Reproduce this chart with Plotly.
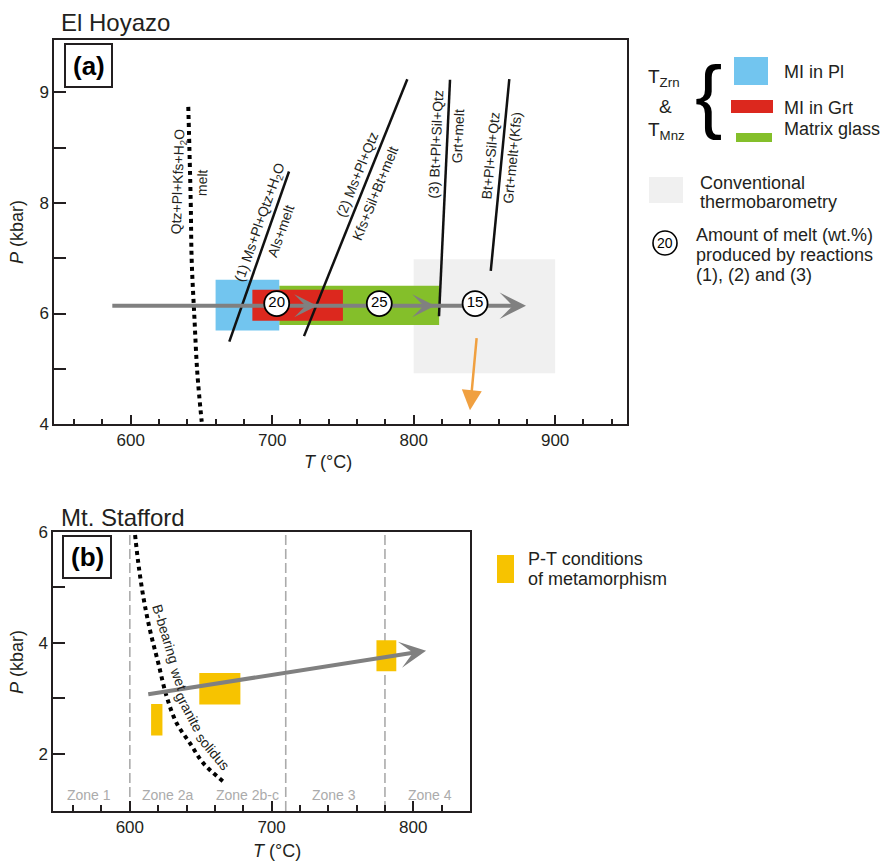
import plotly.graph_objects as go

FONT = "Liberation Sans, Arial, Helvetica, sans-serif"
INK = "#231f20"
W, H = 880, 862

# ---------------- Panel (a): El Hoyazo ----------------
a_xrange = [546, 951]
a_yrange = [4, 10.95]
a_yticks = [4, 6, 8, 10]
a_yticklabels = ["4", "6", "8", "9"]
a_yminor = [5, 7, 9]

# boxes: [T min, T max, P min, P max]
conv_box = [800, 900, 4.92, 6.98]
glass_box = [705, 818, 5.79, 6.50]
pl_box = [660, 705, 5.69, 6.61]
grt_box = [686, 750, 5.87, 6.43]

solidus_T = [640.7, 642.4, 643.1, 645.0, 647.1, 650.2]
solidus_P = [9.74, 8.05, 6.97, 5.94, 4.92, 4.04]

r1_T = [669.7, 711.9]
r1_P = [5.49, 8.57]
r2_T = [722.5, 795.5]
r2_P = [5.59, 10.24]
r3_T = [817.9, 825.7]
r3_P = [5.95, 10.23]
r4_T = [854.5, 867.6]
r4_P = [6.77, 10.24]

path_T = [587, 879.4]
path_P = [6.14, 6.14]
path_heads_T = [731.7, 815.1]

melt_T = [703.2, 775.7, 843.4]
melt_P = [6.18, 6.18, 6.18]
melt_amount = ["20", "25", "15"]

orange_T = [844.6, 839.8]
orange_P = [5.58, 4.25]

# reaction labels: text, T, P, angle
a_labels = [
    ("Qtz+Pl+Kfs+H<sub>2</sub>O", 634.1, 8.39, -88),
    ("melt", 650.4, 8.36, -88),
    ("(1) Ms+Pl+Qtz+H<sub>2</sub>O", 691.4, 7.64, -70.6),
    ("Als+melt", 706.2, 7.49, -70.6),
    ("(2) Ms+Pl+Qtz", 760.3, 8.52, -68),
    ("Kfs+Sil+Bt+melt", 772.9, 8.18, -68),
    ("(3) Bt+Pl+Sil+Qtz", 815.6, 9.07, -87.3),
    ("Grt+melt", 831.4, 9.21, -87.3),
    ("Bt+Pl+Sil+Qtz", 854.7, 8.86, -84.4),
    ("Grt+melt+(Kfs)", 869.5, 8.82, -84.4),
]

# ---------------- Panel (b): Mt. Stafford ----------------
b_xrange = [546, 840]
b_yrange = [0.97, 6.0]
b_yticks = [2, 4, 6]
b_yticklabels = ["2", "4", "6"]
b_yminor = [3, 5]

zone_bounds = [600, 710, 780]
zone_names = ["Zone 1", "Zone 2a", "Zone 2b-c", "Zone 3", "Zone 4"]
zone_label_T = [571.3, 626.7, 682.7, 743.9, 811.8]
zone_label_P = [1.26, 1.26, 1.26, 1.26, 1.26]

meta_boxes = [
    [615, 623, 2.33, 2.90],
    [649, 678, 2.89, 3.46],
    [774, 788, 3.49, 4.05],
]

b_solidus_T = [603.7, 606.0, 609.5, 614.2, 620.1, 626.0, 633.1, 642.5, 651.9, 666.0]
b_solidus_P = [5.946, 5.436, 4.833, 4.233, 3.633, 3.031, 2.551, 2.19, 1.83, 1.498]

b_path_T = [613.0, 809.0]
b_path_P = [3.074, 3.86]

b_labels = [
    ("B-bearing", 625.6, 4.17, 73),
    ("wet", 634.0, 3.36, 70),
    ("granite", 642.0, 2.76, 62),
    ("solidus", 659.0, 2.04, 50),
]

# ---------------- colours ----------------
C_PL = "#72c5ef"
C_GRT = "#dc281e"
C_GLASS = "#84bf2a"
C_CONV = "#f0f0f0"
C_META = "#f7c300"
C_PATH = "#808080"
C_ORANGE = "#f0a040"
C_ZONE = "#ababab"


def px(x):
    return x / W


def py(y):
    return 1 - y / H


fig = go.Figure()

# ---- panel a traces ----
fig.add_trace(go.Scatter(x=solidus_T, y=solidus_P, mode="lines", line=dict(color="black", width=4, dash="dot", shape="spline"),
                         xaxis="x", yaxis="y", hoverinfo="skip"))
for tt, pp in [(r1_T, r1_P), (r2_T, r2_P), (r3_T, r3_P), (r4_T, r4_P)]:
    fig.add_trace(go.Scatter(x=tt, y=pp, mode="lines", line=dict(color="#111111", width=2.5),
                             xaxis="x", yaxis="y", hoverinfo="skip"))
fig.add_trace(go.Scatter(x=[path_T[0], path_T[1] - 8], y=path_P, mode="lines", line=dict(color=C_PATH, width=4),
                         xaxis="x", yaxis="y", hoverinfo="skip"))
fig.add_trace(go.Scatter(x=melt_T, y=melt_P, mode="markers+text", text=melt_amount, textposition="middle center",
                         textfont=dict(size=15, color="black", family=FONT),
                         marker=dict(size=25, color="white", line=dict(color="black", width=1.8)),
                         xaxis="x", yaxis="y", hoverinfo="skip"))

# ---- panel b traces ----
fig.add_trace(go.Scatter(x=b_solidus_T, y=b_solidus_P, mode="lines", line=dict(color="black", width=4, dash="dot", shape="spline"),
                         xaxis="x2", yaxis="y2", hoverinfo="skip"))
b_slope = (b_path_P[1] - b_path_P[0]) / (b_path_T[1] - b_path_T[0])
fig.add_trace(go.Scatter(x=[b_path_T[0], b_path_T[1] - 8], y=[b_path_P[0], b_path_P[1] - 8 * b_slope],
                         mode="lines", line=dict(color=C_PATH, width=4), xaxis="x2", yaxis="y2", hoverinfo="skip"))

shapes = []


def rect(box, color, xr="x", yr="y"):
    return dict(type="rect", xref=xr, yref=yr, x0=box[0], x1=box[1], y0=box[2], y1=box[3],
                fillcolor=color, line=dict(width=0), layer="below")


shapes.append(rect(conv_box, C_CONV))
shapes.append(rect(glass_box, C_GLASS))
shapes.append(rect(pl_box, C_PL))
shapes.append(rect(grt_box, C_GRT))
for b in meta_boxes:
    shapes.append(rect(b, C_META, "x2", "y2"))
for zb in zone_bounds:
    shapes.append(dict(type="line", xref="x2", yref="y2 domain", x0=zb, x1=zb, y0=0, y1=1,
                       line=dict(color=C_ZONE, width=1.6, dash="10px,4px"), layer="below"))

# panel letter boxes
shapes.append(dict(type="rect", xref="paper", yref="paper", x0=px(65), x1=px(112), y0=py(87), y1=py(44),
                   line=dict(color=INK, width=2), fillcolor="white"))
shapes.append(dict(type="rect", xref="paper", yref="paper", x0=px(63), x1=px(111), y0=py(578), y1=py(536),
                   line=dict(color=INK, width=2), fillcolor="white"))

# legend (a) swatches
shapes.append(dict(type="rect", xref="paper", yref="paper", x0=px(734), x1=px(768), y0=py(85), y1=py(57),
                   fillcolor=C_PL, line=dict(width=0)))
shapes.append(dict(type="rect", xref="paper", yref="paper", x0=px(731), x1=px(773), y0=py(113), y1=py(100),
                   fillcolor=C_GRT, line=dict(width=0)))
shapes.append(dict(type="rect", xref="paper", yref="paper", x0=px(736), x1=px(772), y0=py(142), y1=py(133),
                   fillcolor=C_GLASS, line=dict(width=0)))
shapes.append(dict(type="rect", xref="paper", yref="paper", x0=px(649), x1=px(683), y0=py(203), y1=py(177),
                   fillcolor=C_CONV, line=dict(width=0)))
shapes.append(dict(type="circle", xref="paper", yref="paper", x0=px(653), x1=px(677), y0=py(255), y1=py(231),
                   fillcolor="white", line=dict(color="black", width=1.6)))
# legend (b) swatch
shapes.append(dict(type="rect", xref="paper", yref="paper", x0=px(497), x1=px(514), y0=py(583), y1=py(555),
                   fillcolor=C_META, line=dict(width=0)))

ann = []


def text(x, y, s, size=18, xanchor="left", color=INK, **kw):
    ann.append(dict(xref="paper", yref="paper", x=px(x), y=py(y), text=s, showarrow=False,
                    xanchor=xanchor, yanchor="middle", font=dict(size=size, color=color, family=FONT), **kw))


# titles
text(59, 23, "El Hoyazo", size=24)
text(59, 517, "Mt. Stafford", size=24)
text(88.5, 66, "<b>(a)</b>", size=26, xanchor="center", color="black")
text(87, 557, "<b>(b)</b>", size=26, xanchor="center", color="black")
# axis titles
text(327.5, 462, "<i>T</i> (°C)", size=18, xanchor="center")
text(276.5, 851, "<i>T</i> (°C)", size=18, xanchor="center")
text(17, 232, "<i>P</i> (kbar)", size=18, xanchor="center", textangle=-90)
text(17, 662, "<i>P</i> (kbar)", size=18, xanchor="center", textangle=-90)

# legend (a)
text(646, 78, "T<sub>Zrn</sub>", size=19)
text(665, 106, "&amp;", size=19, xanchor="center")
text(646, 131, "T<sub>Mnz</sub>", size=19)
text(708, 94, "{", size=82, xanchor="center", color="black")
text(782, 72, "MI in Pl")
text(782, 107.5, "MI in Grt")
text(782, 129, "Matrix glass")
text(698, 182.5, "Conventional")
text(698, 201.7, "thermobarometry")
text(665, 243, "20", size=14, xanchor="center", color="black")
text(694, 235, "Amount of melt (wt.%)")
text(694, 255, "produced by reactions")
text(694, 275, "(1), (2) and (3)")
# legend (b)
text(526, 559, "P-T conditions")
text(526, 579, "of metamorphism")

# reaction labels (a)
for s, t, p, ang in a_labels:
    ann.append(dict(xref="x", yref="y", x=t, y=p, text=s, showarrow=False, textangle=ang,
                    xanchor="center", yanchor="middle", font=dict(size=14, color=INK, family=FONT)))
# solidus label (b)
for s, t, p, ang in b_labels:
    ann.append(dict(xref="x2", yref="y2", x=t, y=p, text=s, showarrow=False, textangle=ang,
                    xanchor="center", yanchor="middle", font=dict(size=14, color=INK, family=FONT)))
# zone labels
for s, t, p in zip(zone_names, zone_label_T, zone_label_P):
    ann.append(dict(xref="x2", yref="y2", x=t, y=p, text=s, showarrow=False,
                    xanchor="center", yanchor="middle", font=dict(size=14, color=C_ZONE, family=FONT)))

# arrow heads (a)
ann.append(dict(xref="x", yref="y", axref="x", ayref="y", x=path_T[1], y=path_P[1], ax=path_T[1] - 8, ay=path_P[1],
                showarrow=True, arrowhead=3, arrowsize=1.1, arrowwidth=4, arrowcolor=C_PATH, text="", standoff=0))
for ht in path_heads_T:
    ann.append(dict(xref="x", yref="y", axref="x", ayref="y", x=ht, y=path_P[0], ax=ht - 6, ay=path_P[0],
                    showarrow=True, arrowhead=3, arrowsize=0.95, arrowwidth=4, arrowcolor=C_PATH, text="", standoff=0))
# orange arrow
ann.append(dict(xref="x", yref="y", axref="x", ayref="y", x=orange_T[1], y=orange_P[1], ax=orange_T[0], ay=orange_P[0],
                showarrow=True, arrowhead=2, arrowsize=1.6, arrowwidth=2.5, arrowcolor=C_ORANGE, text="", standoff=0))
# arrow head (b)
ann.append(dict(xref="x2", yref="y2", axref="x2", ayref="y2", x=b_path_T[1], y=b_path_P[1],
                ax=b_path_T[1] - 8, ay=b_path_P[1] - 8 * b_slope,
                showarrow=True, arrowhead=3, arrowsize=1.1, arrowwidth=4, arrowcolor=C_PATH, text="", standoff=0))

tickfont = dict(size=17, color=INK, family=FONT)
common_x = dict(ticks="inside", tickwidth=1.5, tickcolor=INK, dtick=100, tick0=0,
                showline=True, linewidth=2, linecolor=INK, mirror=True, showgrid=False, zeroline=False,
                tickfont=tickfont, fixedrange=True)
common_y = dict(ticks="inside", ticklen=12, tickwidth=1.5, tickcolor=INK, tickmode="array",
                showline=True, linewidth=2, linecolor=INK, mirror=True, showgrid=False, zeroline=False,
                tickfont=tickfont, fixedrange=True)

fig.update_layout(
    width=W, height=H, margin=dict(l=0, r=0, t=0, b=0, autoexpand=False), showlegend=False,
    paper_bgcolor="white", plot_bgcolor="white",
    xaxis=dict(domain=[px(54.3), px(627.3)], range=a_xrange, anchor="y", ticklen=9,
               minor=dict(dtick=20, tick0=0, ticks="inside", ticklen=5, tickwidth=1.5, tickcolor=INK), **common_x),
    yaxis=dict(domain=[py(424), py(40)], range=a_yrange, anchor="x",
               tickvals=a_yticks, ticktext=a_yticklabels,
               minor=dict(tickmode="array", tickvals=a_yminor, ticks="inside", ticklen=12, tickwidth=1.5, tickcolor=INK),
               **common_y),
    xaxis2=dict(domain=[px(53.3), px(470)], range=b_xrange, anchor="y2", ticklen=10,
                minor=dict(dtick=20, tick0=0, ticks="inside", ticklen=6, tickwidth=1.5, tickcolor=INK), **common_x),
    yaxis2=dict(domain=[py(811), py(532)], range=b_yrange, anchor="x2",
                tickvals=b_yticks, ticktext=b_yticklabels,
                minor=dict(tickmode="array", tickvals=b_yminor, ticks="inside", ticklen=12, tickwidth=1.5, tickcolor=INK),
                **common_y),
    shapes=shapes, annotations=ann,
)

fig.write_html("out.html")
